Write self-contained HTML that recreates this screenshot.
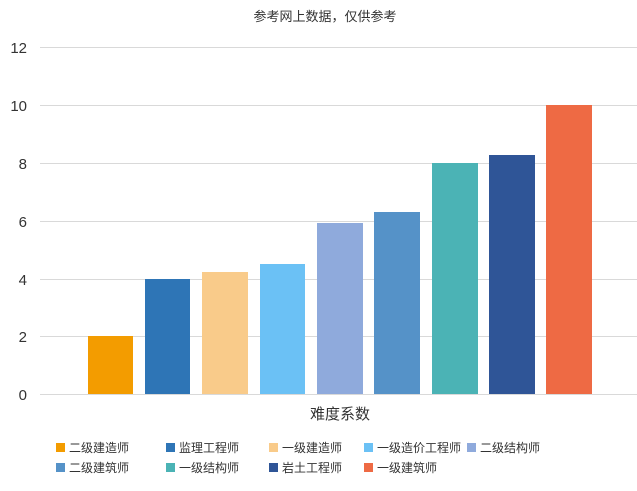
<!DOCTYPE html>
<html><head><meta charset="utf-8"><style>
body{margin:0;background:#fff}
text{font-family:"Liberation Sans","Noto Sans CJK SC",sans-serif;fill:#333}
</style></head><body>
<svg width="637" height="486" xmlns="http://www.w3.org/2000/svg">
<rect width="637" height="486" fill="#fff"/>
<text x="325" y="21" font-size="13" text-anchor="middle">参考网上数据，仅供参考</text>
<g stroke="#d9d9d9" stroke-width="1">
<line x1="40" x2="637" y1="47.5" y2="47.5"/>
<line x1="40" x2="637" y1="105.5" y2="105.5"/>
<line x1="40" x2="637" y1="163.5" y2="163.5"/>
<line x1="40" x2="637" y1="221.5" y2="221.5"/>
<line x1="40" x2="637" y1="279.5" y2="279.5"/>
<line x1="40" x2="637" y1="336.5" y2="336.5"/>
<line x1="40" x2="637" y1="394.5" y2="394.5"/>
</g>
<g font-size="15" text-anchor="end">
<text x="27" y="53">12</text><text x="27" y="111">10</text><text x="27" y="169">8</text>
<text x="27" y="227">6</text><text x="27" y="285">4</text><text x="27" y="342">2</text><text x="27" y="400">0</text>
</g>
<rect x="88" y="336" width="45" height="58" fill="#F39C00"/>
<rect x="145" y="279" width="45" height="115" fill="#2E75B6"/>
<rect x="202" y="272" width="46" height="122" fill="#F9CB8A"/>
<rect x="260" y="264" width="45" height="130" fill="#6BC1F5"/>
<rect x="317" y="223" width="46" height="171" fill="#8FAADC"/>
<rect x="374" y="212" width="46" height="182" fill="#5592C8"/>
<rect x="432" y="163" width="46" height="231" fill="#4BB3B5"/>
<rect x="489" y="155" width="46" height="239" fill="#2F5597"/>
<rect x="546" y="105" width="46" height="289" fill="#EE6A44"/>
<text x="340" y="419" font-size="15" text-anchor="middle">难度系数</text>
<g font-size="12">
<rect x="56" y="443" width="9" height="9" fill="#F39C00"/><text x="69" y="452">二级建造师</text>
<rect x="166" y="443" width="9" height="9" fill="#2E75B6"/><text x="179" y="452">监理工程师</text>
<rect x="269" y="443" width="9" height="9" fill="#F9CB8A"/><text x="282" y="452">一级建造师</text>
<rect x="364" y="443" width="9" height="9" fill="#6BC1F5"/><text x="377" y="452">一级造价工程师</text>
<rect x="467" y="443" width="9" height="9" fill="#8FAADC"/><text x="480" y="452">二级结构师</text>
<rect x="56" y="463" width="9" height="9" fill="#5592C8"/><text x="69" y="472">二级建筑师</text>
<rect x="166" y="463" width="9" height="9" fill="#4BB3B5"/><text x="179" y="472">一级结构师</text>
<rect x="269" y="463" width="9" height="9" fill="#2F5597"/><text x="282" y="472">岩土工程师</text>
<rect x="364" y="463" width="9" height="9" fill="#EE6A44"/><text x="377" y="472">一级建筑师</text>
</g>
</svg>
</body></html>
